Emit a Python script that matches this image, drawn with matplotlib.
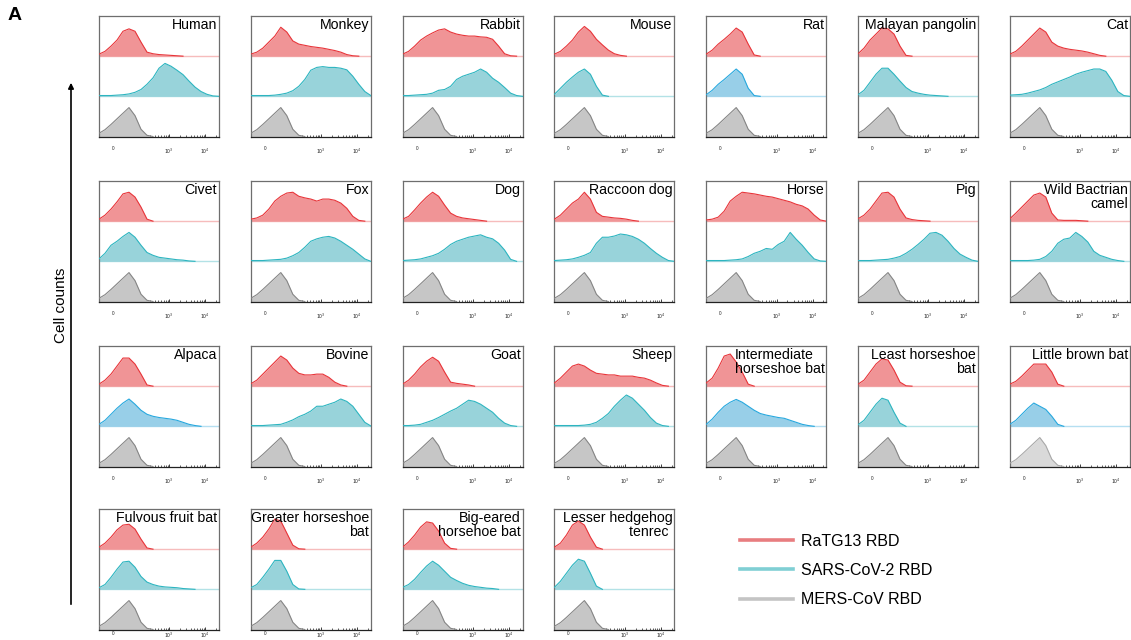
import numpy as np
import matplotlib
matplotlib.use("Agg")
import matplotlib.pyplot as plt
from matplotlib.lines import Line2D

plt.rcParams['font.family'] = ['Liberation Sans', 'DejaVu Sans']

# histogram bins along the fluorescence axis (fraction of panel width)
BINS = [0.00, 0.05, 0.10, 0.15, 0.20, 0.25, 0.30, 0.35, 0.40, 0.45, 0.50,
        0.55, 0.60, 0.65, 0.70, 0.75, 0.80, 0.85, 0.90, 0.95, 1.00]

# axis ticks (biexponential display)
TICK_POS = [0.117, 0.586, 0.886]
TICK_LABELS = ['0', r'$10^3$', r'$10^4$']

# heights are fraction of one band, read at each bin; missing tail = 0
GREY = [0.08, 0.17, 0.30, 0.44, 0.58, 0.72, 0.52, 0.18, 0.03]

HUMAN_RED = [0.05, 0.12, 0.25, 0.40, 0.62, 0.68, 0.62, 0.35, 0.10, 0.06, 0.04, 0.03, 0.02, 0.01]
HUMAN_TEAL = [0.02, 0.02, 0.02, 0.03, 0.04, 0.06, 0.10, 0.17, 0.30, 0.46, 0.70, 0.82, 0.75, 0.65, 0.54, 0.38, 0.23, 0.12, 0.05, 0.01]
MONKEY_RED = [0.05, 0.10, 0.20, 0.35, 0.50, 0.72, 0.60, 0.38, 0.30, 0.27, 0.24, 0.22, 0.20, 0.17, 0.14, 0.10, 0.04, 0.01]
MONKEY_TEAL = [0.02, 0.02, 0.02, 0.02, 0.03, 0.05, 0.08, 0.14, 0.25, 0.42, 0.65, 0.72, 0.74, 0.72, 0.72, 0.70, 0.66, 0.50, 0.30, 0.12, 0.02]
RABBIT_RED = [0.05, 0.12, 0.25, 0.40, 0.50, 0.58, 0.65, 0.68, 0.60, 0.55, 0.52, 0.50, 0.50, 0.48, 0.47, 0.42, 0.25, 0.06, 0.01]
RABBIT_TEAL = [0.02, 0.02, 0.03, 0.04, 0.05, 0.08, 0.15, 0.17, 0.25, 0.42, 0.50, 0.55, 0.60, 0.68, 0.60, 0.45, 0.35, 0.22, 0.08, 0.02]
MOUSE_RED = [0.05, 0.12, 0.25, 0.40, 0.60, 0.74, 0.62, 0.42, 0.28, 0.15, 0.06, 0.02]
MOUSE_TEAL = [0.05, 0.20, 0.35, 0.48, 0.60, 0.68, 0.55, 0.25, 0.03]
RAT_RED = [0.05, 0.15, 0.30, 0.42, 0.55, 0.70, 0.60, 0.30, 0.03]
RAT_TEAL = [0.04, 0.15, 0.30, 0.42, 0.55, 0.68, 0.55, 0.20, 0.02]
PANGOLIN_RED = [0.06, 0.20, 0.40, 0.55, 0.70, 0.68, 0.55, 0.25, 0.02]
PANGOLIN_TEAL = [0.04, 0.15, 0.35, 0.55, 0.70, 0.70, 0.55, 0.38, 0.22, 0.12, 0.08, 0.05, 0.03, 0.02, 0.01]
CAT_RED = [0.05, 0.12, 0.25, 0.40, 0.55, 0.70, 0.60, 0.35, 0.25, 0.20, 0.17, 0.15, 0.13, 0.10, 0.06, 0.02]
CAT_TEAL = [0.03, 0.04, 0.05, 0.08, 0.12, 0.16, 0.22, 0.30, 0.36, 0.42, 0.48, 0.55, 0.60, 0.64, 0.68, 0.68, 0.62, 0.40, 0.12, 0.02]

CIVET_RED = [0.05, 0.15, 0.30, 0.48, 0.68, 0.72, 0.60, 0.35, 0.05]
CIVET_TEAL = [0.06, 0.20, 0.40, 0.50, 0.62, 0.72, 0.60, 0.40, 0.22, 0.15, 0.10, 0.08, 0.06, 0.04, 0.03, 0.01]
FOX_RED = [0.05, 0.08, 0.15, 0.30, 0.50, 0.62, 0.70, 0.72, 0.62, 0.58, 0.55, 0.50, 0.55, 0.55, 0.52, 0.45, 0.32, 0.12, 0.02]
FOX_TEAL = [0.02, 0.02, 0.02, 0.03, 0.04, 0.05, 0.08, 0.14, 0.22, 0.35, 0.50, 0.56, 0.60, 0.62, 0.58, 0.50, 0.40, 0.30, 0.18, 0.06]
DOG_RED = [0.05, 0.12, 0.28, 0.45, 0.60, 0.72, 0.62, 0.40, 0.20, 0.12, 0.08, 0.06, 0.04, 0.02]
DOG_TEAL = [0.02, 0.03, 0.04, 0.06, 0.10, 0.14, 0.20, 0.30, 0.42, 0.50, 0.55, 0.60, 0.63, 0.66, 0.60, 0.56, 0.45, 0.28, 0.05]
RACCOON_RED = [0.05, 0.15, 0.30, 0.45, 0.55, 0.72, 0.55, 0.22, 0.12, 0.10, 0.08, 0.07, 0.05, 0.02]
RACCOON_TEAL = [0.02, 0.03, 0.04, 0.06, 0.10, 0.15, 0.22, 0.45, 0.60, 0.60, 0.63, 0.68, 0.66, 0.62, 0.55, 0.45, 0.32, 0.20, 0.10, 0.02]
HORSE_RED = [0.03, 0.05, 0.10, 0.25, 0.50, 0.62, 0.72, 0.70, 0.68, 0.65, 0.62, 0.60, 0.56, 0.52, 0.48, 0.42, 0.38, 0.30, 0.15, 0.03]
HORSE_TEAL = [0.02, 0.02, 0.02, 0.02, 0.03, 0.04, 0.06, 0.12, 0.20, 0.25, 0.32, 0.30, 0.42, 0.50, 0.72, 0.55, 0.40, 0.22, 0.06, 0.01]
PIG_RED = [0.06, 0.15, 0.30, 0.50, 0.70, 0.72, 0.60, 0.30, 0.08, 0.04, 0.02, 0.01]
PIG_TEAL = [0.02, 0.02, 0.02, 0.03, 0.04, 0.05, 0.08, 0.12, 0.20, 0.30, 0.42, 0.55, 0.70, 0.72, 0.65, 0.50, 0.32, 0.18, 0.10, 0.03]
CAMEL_RED = [0.06, 0.20, 0.35, 0.50, 0.65, 0.70, 0.60, 0.20, 0.03, 0.02, 0.02, 0.02, 0.01]
CAMEL_TEAL = [0.02, 0.02, 0.02, 0.02, 0.03, 0.05, 0.12, 0.25, 0.45, 0.55, 0.58, 0.72, 0.62, 0.48, 0.25, 0.15, 0.10, 0.05, 0.02]

ALPACA_RED = [0.05, 0.15, 0.30, 0.50, 0.70, 0.70, 0.55, 0.30, 0.03]
ALPACA_TEAL = [0.05, 0.15, 0.30, 0.45, 0.58, 0.68, 0.55, 0.40, 0.30, 0.25, 0.22, 0.20, 0.18, 0.15, 0.10, 0.05, 0.02]
BOVINE_RED = [0.06, 0.15, 0.30, 0.45, 0.60, 0.75, 0.65, 0.45, 0.32, 0.28, 0.28, 0.30, 0.30, 0.22, 0.10, 0.03]
BOVINE_TEAL = [0.02, 0.02, 0.02, 0.03, 0.04, 0.05, 0.10, 0.16, 0.24, 0.30, 0.38, 0.50, 0.50, 0.55, 0.60, 0.68, 0.62, 0.50, 0.30, 0.10, 0.01]
GOAT_RED = [0.05, 0.15, 0.30, 0.48, 0.62, 0.72, 0.62, 0.35, 0.10, 0.07, 0.05, 0.03]
GOAT_TEAL = [0.02, 0.02, 0.03, 0.05, 0.10, 0.15, 0.22, 0.30, 0.38, 0.45, 0.55, 0.65, 0.62, 0.55, 0.45, 0.35, 0.20, 0.08, 0.02]
SHEEP_RED = [0.08, 0.20, 0.35, 0.50, 0.55, 0.50, 0.40, 0.32, 0.30, 0.28, 0.28, 0.25, 0.25, 0.25, 0.22, 0.20, 0.15, 0.08, 0.02]
SHEEP_TEAL = [0.02, 0.02, 0.02, 0.02, 0.02, 0.03, 0.05, 0.10, 0.20, 0.32, 0.50, 0.65, 0.78, 0.70, 0.55, 0.40, 0.22, 0.08, 0.02]
INTER_RED = [0.08, 0.20, 0.45, 0.75, 0.80, 0.60, 0.35, 0.05]
INTER_TEAL = [0.05, 0.18, 0.35, 0.50, 0.60, 0.67, 0.60, 0.50, 0.40, 0.32, 0.28, 0.25, 0.22, 0.20, 0.15, 0.10, 0.05, 0.02]
LEAST_RED = [0.05, 0.15, 0.35, 0.55, 0.68, 0.65, 0.40, 0.10, 0.01]
LEAST_TEAL = [0.04, 0.15, 0.35, 0.55, 0.70, 0.65, 0.35, 0.08]
LBB_RED = [0.05, 0.12, 0.25, 0.40, 0.55, 0.55, 0.55, 0.35, 0.05]
LBB_TEAL = [0.05, 0.15, 0.30, 0.45, 0.58, 0.50, 0.42, 0.25, 0.05]

FULVOUS_RED = [0.05, 0.15, 0.30, 0.48, 0.60, 0.62, 0.50, 0.25, 0.03]
FULVOUS_TEAL = [0.04, 0.12, 0.30, 0.50, 0.68, 0.70, 0.55, 0.32, 0.18, 0.12, 0.08, 0.06, 0.05, 0.04, 0.02, 0.01]
GREATER_RED = [0.05, 0.15, 0.30, 0.50, 0.75, 0.70, 0.40, 0.10, 0.01]
GREATER_TEAL = [0.04, 0.12, 0.30, 0.50, 0.72, 0.72, 0.45, 0.12, 0.01]
BIGEARED_RED = [0.05, 0.18, 0.35, 0.55, 0.68, 0.65, 0.45, 0.15, 0.02]
BIGEARED_TEAL = [0.05, 0.12, 0.25, 0.42, 0.58, 0.70, 0.60, 0.45, 0.30, 0.22, 0.15, 0.10, 0.07, 0.05, 0.03, 0.02]
TENREC_RED = [0.05, 0.15, 0.35, 0.60, 0.70, 0.60, 0.30, 0.05]
TENREC_TEAL = [0.05, 0.20, 0.40, 0.60, 0.75, 0.70, 0.40, 0.08]

# panel rows: (title, red, teal)
ROWS = [
    [('Human', HUMAN_RED, HUMAN_TEAL), ('Monkey', MONKEY_RED, MONKEY_TEAL),
     ('Rabbit', RABBIT_RED, RABBIT_TEAL), ('Mouse', MOUSE_RED, MOUSE_TEAL),
     ('Rat', RAT_RED, RAT_TEAL), ('Malayan pangolin', PANGOLIN_RED, PANGOLIN_TEAL),
     ('Cat', CAT_RED, CAT_TEAL)],
    [('Civet', CIVET_RED, CIVET_TEAL), ('Fox', FOX_RED, FOX_TEAL),
     ('Dog', DOG_RED, DOG_TEAL), ('Raccoon dog', RACCOON_RED, RACCOON_TEAL),
     ('Horse', HORSE_RED, HORSE_TEAL), ('Pig', PIG_RED, PIG_TEAL),
     ('Wild Bactrian\ncamel', CAMEL_RED, CAMEL_TEAL)],
    [('Alpaca', ALPACA_RED, ALPACA_TEAL), ('Bovine', BOVINE_RED, BOVINE_TEAL),
     ('Goat', GOAT_RED, GOAT_TEAL), ('Sheep', SHEEP_RED, SHEEP_TEAL),
     ('Intermediate\nhorseshoe bat', INTER_RED, INTER_TEAL),
     ('Least horseshoe\nbat', LEAST_RED, LEAST_TEAL),
     ('Little brown bat', LBB_RED, LBB_TEAL)],
    [('Fulvous fruit bat', FULVOUS_RED, FULVOUS_TEAL),
     ('Greater horseshoe\nbat', GREATER_RED, GREATER_TEAL),
     ('Big-eared\nhorsehoe bat', BIGEARED_RED, BIGEARED_TEAL),
     ('Lesser hedgehog\ntenrec ', TENREC_RED, TENREC_TEAL)],
]
BLUE_PANELS = {'Rat', 'Alpaca', 'Intermediate\nhorseshoe bat', 'Little brown bat'}
LEFT_TITLES = {'Intermediate\nhorseshoe bat'}

LEGEND_LABELS = ['RaTG13 RBD', 'SARS-CoV-2 RBD', 'MERS-CoV RBD']

RED = ('#f09496', '#e8353a', '#f6bcbc')
TEAL = ('#98d3da', '#2db5c0', '#b3e2e6')
BLUE = ('#98cfe8', '#27a8de', '#b5dff1')
GREYC = ('#c6c6c6', '#858585', None)
LGREY = ('#d9d9d9', '#a8a8a8', None)

W, H = 1131, 640
LEFT0, COLSTEP, PW, PH = 99, 151.8, 120, 120.5
TOPS = [16, 181, 346, 509]


def full(vals):
    return np.array(vals + [0.0] * (len(BINS) - len(vals)))


def draw_hist(ax, vals, base, colors):
    face, edge, basecol = colors
    x = np.array(BINS)
    y = full(vals)
    if basecol:
        ax.plot([0, 1], [base, base], color=basecol, lw=1.0, zorder=1)
    ax.fill_between(x, base, base + y, color=face, lw=0, zorder=2)
    nz = y > 0
    keep = nz | np.r_[nz[1:], False] | np.r_[False, nz[:-1]]
    ax.plot(x, np.where(keep, base + y, np.nan), color=edge, lw=0.8, zorder=3)


# minor ticks: cluster around zero, then log decades
minor = [0.02, 0.045, 0.07, 0.09, 0.10, 0.13, 0.145, 0.17, 0.2, 0.24, 0.286]
for d0 in [0.286, 0.586, 0.886]:
    for k in range(2, 10):
        p = d0 + 0.3 * np.log10(k)
        if p < 1:
            minor.append(p)

fig = plt.figure(figsize=(W / 100, H / 100), dpi=100)

for r, row in enumerate(ROWS):
    for c, (name, red, teal) in enumerate(row):
        left = LEFT0 + c * COLSTEP
        ax = fig.add_axes([left / W, 1 - (TOPS[r] + PH) / H, PW / W, PH / H])
        ax.set_xlim(0, 1)
        ax.set_ylim(0, 3)
        draw_hist(ax, GREY, 0, LGREY if name == 'Little brown bat' else GREYC)
        draw_hist(ax, teal, 1, BLUE if name in BLUE_PANELS else TEAL)
        draw_hist(ax, red, 2, RED)
        for s in ax.spines.values():
            s.set_color('#6e6e6e')
            s.set_linewidth(0.9)
        ax.spines['bottom'].set_color('#222222')
        ax.set_yticks([])
        ax.set_xticks(TICK_POS, TICK_LABELS)
        ax.set_xticks(minor, minor=True)
        ax.tick_params(axis='x', which='major', direction='in', length=2.5, width=0.6,
                       labelsize=3.3, pad=7 if r < 3 else 1, colors='#222222')
        ax.tick_params(axis='x', which='minor', direction='in', length=1.5, width=0.5,
                       colors='#222222')
        if name in LEFT_TITLES:
            ax.text(0.24, 0.985, name, transform=ax.transAxes, ha='left', va='top',
                    fontsize=10.2, linespacing=1.0, zorder=5)
        else:
            ax.text(0.985, 0.985, name, transform=ax.transAxes, ha='right', va='top',
                    fontsize=10.2, linespacing=1.0, multialignment='right', zorder=5)

# legend
handles = [Line2D([], [], color=col, lw=2.6) for col in ['#e87d80', '#80cfd4', '#c4c4c4']]
fig.legend(handles, LEGEND_LABELS, loc='upper left', bbox_to_anchor=(740 / W, 1 - 534 / H),
           frameon=False, fontsize=11.5, handlelength=3.3, handletextpad=0.55,
           labelspacing=0.88, borderpad=0, borderaxespad=0)

# y label with arrow
fig.text(61 / W, 1 - 305 / H, 'Cell counts', rotation=90, ha='center', va='center', fontsize=11)
fig.add_artist(matplotlib.patches.FancyArrowPatch(
    (71 / W, 1 - 607 / H), (71 / W, 1 - 80 / H), transform=fig.transFigure,
    arrowstyle='-|>', mutation_scale=8, lw=1.2, color='black'))

fig.text(8 / W, 1 - 7 / H, 'A', ha='left', va='top', fontsize=14, fontweight='bold')

fig.savefig('out.png', dpi=100)
